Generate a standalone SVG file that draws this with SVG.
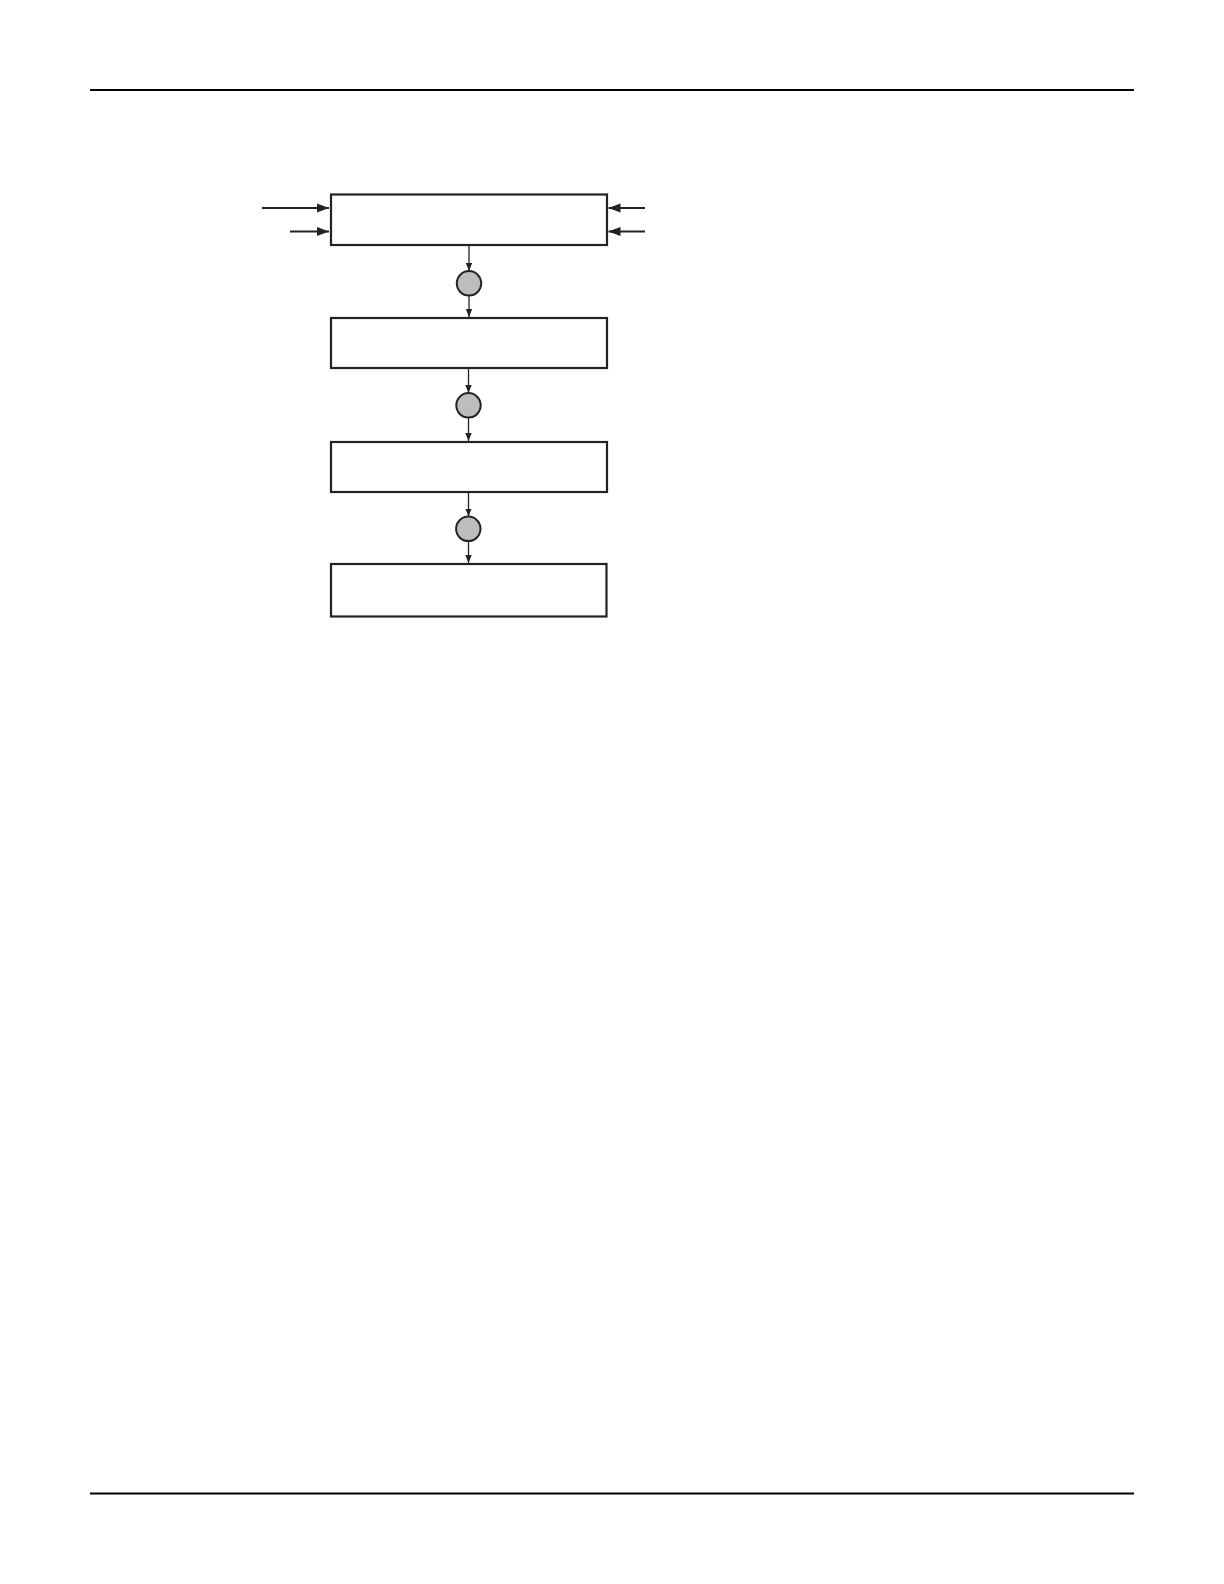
<svg xmlns="http://www.w3.org/2000/svg" width="1224" height="1584" viewBox="0 0 1224 1584">
<defs>
<style>
.box{fill:#fff;stroke:#222;stroke-width:2.2}
.junc{fill:#bdbdbd;stroke:#222;stroke-width:2}
.rule{stroke:#000;stroke-width:2.2}
.thin{stroke:#222;stroke-width:1.3;fill:none}
.thick{stroke:#222;stroke-width:2.2;fill:none}
</style>
<marker id="sa" markerUnits="userSpaceOnUse" markerWidth="8" markerHeight="8" viewBox="0 0 8 8" refX="8" refY="4" orient="auto">
<path d="M0,0.8 L8,4 L0,7.2 Z" fill="#222"/>
</marker>
<marker id="la" markerUnits="userSpaceOnUse" markerWidth="12" markerHeight="10" viewBox="0 0 12 10" refX="12" refY="5" orient="auto">
<path d="M0,0.5 L12,5 L0,9.5 Z" fill="#222"/>
</marker>
</defs>
<line class="rule" x1="90" y1="90" x2="1134" y2="90"/>
<line class="rule" x1="90" y1="1493.5" x2="1134" y2="1493.5"/>
<g id="connectors">
<line class="thick" x1="262" y1="208" x2="329" y2="208" marker-end="url(#la)"/>
<line class="thick" x1="290" y1="231.5" x2="329" y2="231.5" marker-end="url(#la)"/>
<line class="thick" x1="645" y1="208" x2="608.5" y2="208" marker-end="url(#la)"/>
<line class="thick" x1="645" y1="231.5" x2="608.5" y2="231.5" marker-end="url(#la)"/>
<line class="thin" x1="469" y1="245" x2="469" y2="271" marker-end="url(#sa)"/>
<line class="thin" x1="469" y1="295.5" x2="469" y2="317" marker-end="url(#sa)"/>
<line class="thin" x1="468.5" y1="368" x2="468.5" y2="393" marker-end="url(#sa)"/>
<line class="thin" x1="468.5" y1="417.5" x2="468.5" y2="441" marker-end="url(#sa)"/>
<line class="thin" x1="468.5" y1="492" x2="468.5" y2="516.5" marker-end="url(#sa)"/>
<line class="thin" x1="468.5" y1="541" x2="468.5" y2="563" marker-end="url(#sa)"/>
</g>
<g id="box1"><rect class="box" x="331" y="194.5" width="276" height="50.5"/></g>
<g id="junction1"><circle class="junc" cx="469" cy="283.3" r="12.2"/></g>
<g id="box2"><rect class="box" x="331" y="318" width="276" height="50"/></g>
<g id="junction2"><circle class="junc" cx="468.5" cy="405.3" r="12.2"/></g>
<g id="box3"><rect class="box" x="331" y="442" width="276" height="50"/></g>
<g id="junction3"><circle class="junc" cx="468.3" cy="528.8" r="12.2"/></g>
<g id="box4"><rect class="box" x="331" y="564" width="275.5" height="52.5"/></g>
</svg>
